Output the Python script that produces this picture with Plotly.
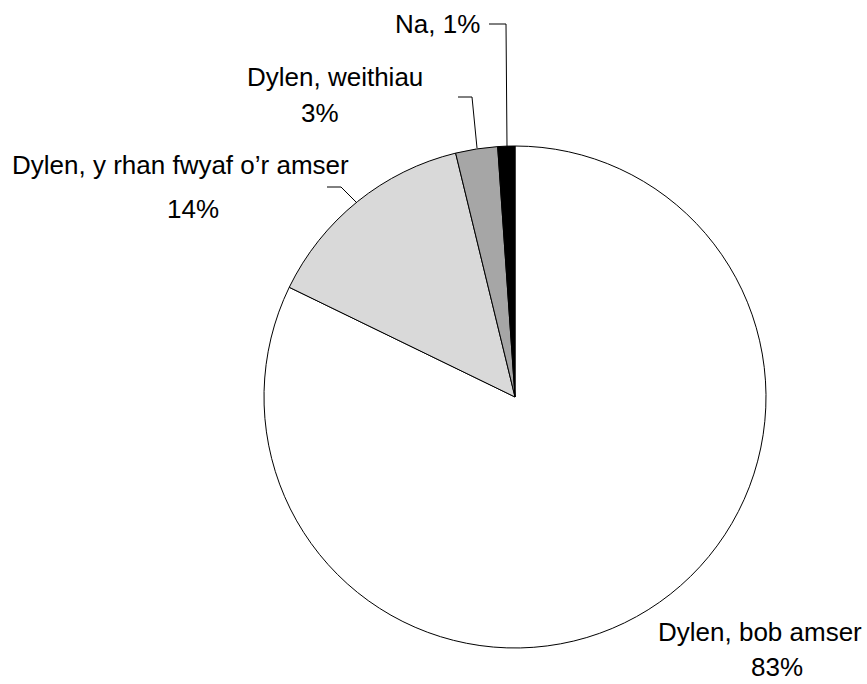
import plotly.graph_objects as go

W, H = 867, 684

# ---- data ----
categories = ["Dylen, bob amser", "Dylen, y rhan fwyaf o’r amser", "Dylen, weithiau", "Na"]
values = [82.2, 14.0, 2.7, 1.1]
pct_labels = ["83%", "14%", "3%", "1%"]
colors = ["#ffffff", "#d9d9d9", "#a6a6a6", "#000000"]

# ---- layout helpers (page pixel -> paper) ----
def px(x):
    return x / W

def py(y):
    return 1 - y / H

cx, cy, r = 515, 397, 251

fig = go.Figure(go.Pie(
    labels=categories,
    values=values,
    sort=False,
    direction="clockwise",
    rotation=0,
    textinfo="none",
    hoverinfo="label+percent",
    marker=dict(colors=colors, line=dict(color="#000000", width=1)),
    domain=dict(x=[px(cx - r), px(cx + r)], y=[py(cy + r), py(cy - r)]),
    showlegend=False,
))

font = dict(family="Liberation Sans, Arial, sans-serif", size=26, color="#000000")

# label placements (name line centre, percent line centre) in page pixels
name_pos = [(760, 632), (180, 165), (335, 77), None]
pct_pos = [(777, 667), (193, 209), (320, 113), None]

annotations = []
for i, cat in enumerate(categories):
    if name_pos[i] is None:
        annotations.append(dict(
            x=px(437.5), y=py(24), xref="paper", yref="paper",
            text=f"{cat}, {pct_labels[i]}", showarrow=False,
            xanchor="center", yanchor="middle", font=font))
    else:
        nx, ny = name_pos[i]
        annotations.append(dict(
            x=px(nx), y=py(ny), xref="paper", yref="paper",
            text=cat, showarrow=False, xanchor="center", yanchor="middle", font=font))
        qx, qy = pct_pos[i]
        annotations.append(dict(
            x=px(qx), y=py(qy), xref="paper", yref="paper",
            text=pct_labels[i], showarrow=False, xanchor="center", yanchor="middle", font=font))

# leader lines (page pixel paths)
leaders = [
    [(327, 187), (341, 187), (357, 203)],
    [(458, 97), (472, 97), (477, 148)],
    [(489, 24), (506, 24), (507, 147)],
]
shapes = []
for pts in leaders:
    path = "M " + " L ".join(f"{px(x)},{py(y)}" for x, y in pts)
    shapes.append(dict(type="path", xref="paper", yref="paper", path=path,
                       line=dict(color="#000000", width=1)))

fig.update_layout(
    width=W, height=H,
    margin=dict(l=0, r=0, t=0, b=0),
    paper_bgcolor="#ffffff",
    plot_bgcolor="#ffffff",
    annotations=annotations,
    shapes=shapes,
)

fig.write_html(
    "out.html",
    config={"displayModeBar": False},
    post_script="document.body.style.margin='0';document.body.style.overflow='hidden';",
)
